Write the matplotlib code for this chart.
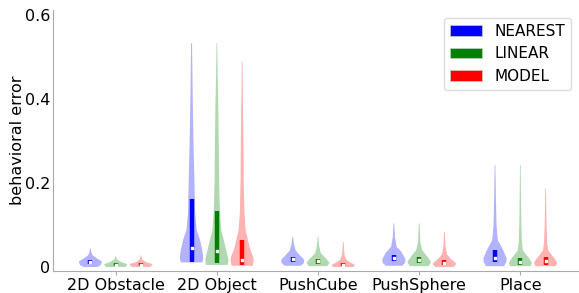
import matplotlib
matplotlib.use("Agg")
import matplotlib.pyplot as plt
from matplotlib.patches import Patch

# tasks on the x axis
tasks = ['2D Obstacle', '2D Object', 'PushCube', 'PushSphere', 'Place']
methods = ['NEAREST', 'LINEAR', 'MODEL']
colors = ['blue', 'green', 'red']

# violin outlines: error levels and relative half widths
nearest_ys = [
    [0.0, 0.005, 0.013, 0.02, 0.028, 0.035, 0.045],
    [0.011, 0.02, 0.03, 0.04, 0.064, 0.088, 0.13, 0.207, 0.3, 0.4, 0.533],
    [0.003, 0.01, 0.017, 0.029, 0.04, 0.055, 0.072],
    [0.003, 0.01, 0.018, 0.03, 0.036, 0.048, 0.07, 0.104],
    [0.002, 0.012, 0.021, 0.035, 0.044, 0.064, 0.1, 0.16, 0.243],
]
nearest_ws = [
    [0.6, 0.9, 1.0, 0.6, 0.2, 0.08, 0.02],
    [0.91, 0.98, 0.96, 0.9, 0.72, 0.43, 0.3, 0.24, 0.16, 0.1, 0.04],
    [0.7, 0.96, 1.0, 0.58, 0.24, 0.1, 0.03],
    [0.7, 0.96, 1.0, 0.78, 0.65, 0.24, 0.1, 0.03],
    [0.78, 0.97, 1.0, 0.78, 0.63, 0.24, 0.13, 0.08, 0.03],
]
linear_ys = [
    [0.0, 0.004, 0.007, 0.012, 0.018, 0.026],
    [0.005, 0.017, 0.033, 0.056, 0.088, 0.13, 0.207, 0.3, 0.38, 0.45, 0.533],
    [0.002, 0.01, 0.02, 0.033, 0.05, 0.072],
    [0.002, 0.008, 0.013, 0.025, 0.04, 0.06, 0.104],
    [0.002, 0.009, 0.02, 0.03, 0.04, 0.06, 0.1, 0.16, 0.243],
]
linear_ws = [
    [0.8, 0.95, 1.0, 0.45, 0.12, 0.02],
    [0.91, 0.97, 0.84, 0.65, 0.37, 0.26, 0.19, 0.16, 0.12, 0.07, 0.03],
    [0.78, 1.0, 0.7, 0.24, 0.1, 0.03],
    [0.78, 0.96, 1.0, 0.7, 0.26, 0.1, 0.03],
    [0.87, 1.0, 0.78, 0.48, 0.22, 0.13, 0.09, 0.06, 0.03],
]
model_ys = [
    [0.0, 0.004, 0.007, 0.012, 0.018, 0.028],
    [0.003, 0.017, 0.025, 0.048, 0.088, 0.13, 0.207, 0.32, 0.4, 0.489],
    [0.0, 0.005, 0.011, 0.017, 0.03, 0.06],
    [0.0, 0.005, 0.009, 0.02, 0.03, 0.05, 0.084],
    [0.002, 0.01, 0.02, 0.03, 0.04, 0.06, 0.1, 0.187],
]
model_ws = [
    [0.75, 0.95, 1.0, 0.4, 0.1, 0.02],
    [0.87, 0.96, 0.9, 0.61, 0.29, 0.19, 0.13, 0.1, 0.06, 0.03],
    [0.87, 1.0, 0.6, 0.26, 0.1, 0.03],
    [0.78, 0.96, 1.0, 0.52, 0.22, 0.09, 0.03],
    [0.87, 1.0, 0.78, 0.48, 0.22, 0.13, 0.08, 0.03],
]

# quartiles (q1, median, q3)
nearest_q1 = [0.008, 0.013, 0.011, 0.014, 0.013]
nearest_med = [0.012, 0.046, 0.018, 0.021, 0.021]
nearest_q3 = [0.017, 0.162, 0.025, 0.028, 0.040]
linear_q1 = [0.002, 0.010, 0.008, 0.010, 0.006]
linear_med = [0.006, 0.039, 0.014, 0.017, 0.013]
linear_q3 = [0.010, 0.134, 0.020, 0.024, 0.022]
model_q1 = [0.002, 0.005, 0.002, 0.004, 0.006]
model_med = [0.006, 0.017, 0.005, 0.010, 0.014]
model_q3 = [0.010, 0.064, 0.010, 0.016, 0.023]

all_ys = [nearest_ys, linear_ys, model_ys]
all_ws = [nearest_ws, linear_ws, model_ws]
all_q1 = [nearest_q1, linear_q1, model_q1]
all_med = [nearest_med, linear_med, model_med]
all_q3 = [nearest_q3, linear_q3, model_q3]

fig = plt.figure(figsize=(5.79, 2.93), dpi=100)
ax = fig.add_axes([0.0915, 0.075, 0.9085, 0.891])

offsets = [-0.25, 0.0, 0.25]
for m in range(3):
    stats = []
    positions = []
    for t in range(len(tasks)):
        ys = all_ys[m][t]
        stats.append({'coords': ys, 'vals': all_ws[m][t],
                      'mean': all_med[m][t], 'median': all_med[m][t],
                      'min': ys[0], 'max': ys[-1]})
        positions.append(t + offsets[m])
    parts = ax.violin(stats, positions=positions, widths=0.23,
                      showmeans=False, showextrema=False, showmedians=False)
    for body in parts['bodies']:
        body.set_facecolor(colors[m])
        body.set_edgecolor('none')
        body.set_alpha(0.3)
    ax.vlines(positions, all_q1[m], all_q3[m], color=colors[m], lw=3.2)
    ax.scatter(positions, all_med[m], marker='s', s=3, color='white', zorder=3)

ax.set_xlim(-0.62, 4.58)
ax.set_ylim(-0.0095, 0.612)
ax.set_xticks(range(len(tasks)))
ax.set_xticklabels(tasks, fontsize=11.5)
ax.set_yticks([0, 0.2, 0.4, 0.6])
ax.set_yticklabels(['0', '0.2', '0.4', '0.6'], fontsize=11.5)
ax.set_ylabel('behavioral error', fontsize=11.5, labelpad=0)
for side in ['top', 'right']:
    ax.spines[side].set_visible(False)
for side in ['left', 'bottom']:
    ax.spines[side].set_color('#aaaaaa')
ax.tick_params(axis='x', length=3, color='#aaaaaa', pad=2)
ax.tick_params(axis='y', length=0, pad=2)

handles = [Patch(facecolor=c, edgecolor='#cccccc', linewidth=0.5) for c in colors]
ax.legend(handles, methods, loc='upper right', fontsize=11, framealpha=1,
          edgecolor='#dddddd', handlelength=2.1)

fig.savefig('out.png', dpi=100)
